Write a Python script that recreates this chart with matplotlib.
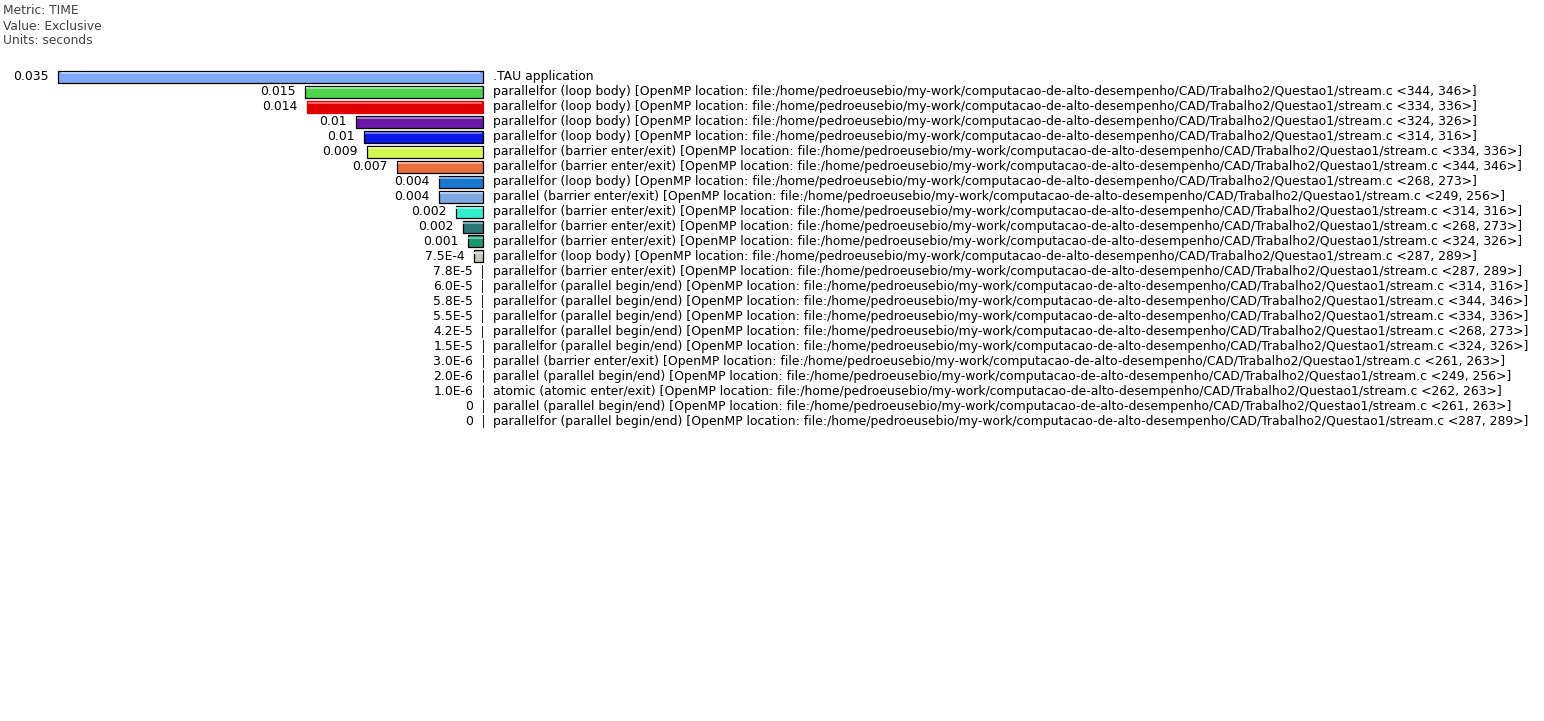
import matplotlib.pyplot as plt
import matplotlib.colors as mcolors

plt.rcParams['font.family'] = ['DejaVu Sans']

# Dados de tempo exclusivo por região (segundos)
loc = 'file:/home/pedroeusebio/my-work/computacao-de-alto-desempenho/CAD/Trabalho2/Questao1/stream.c'
nomes = [
    '.TAU application',
    'parallelfor (loop body) [OpenMP location: ' + loc + ' <344, 346>]',
    'parallelfor (loop body) [OpenMP location: ' + loc + ' <334, 336>]',
    'parallelfor (loop body) [OpenMP location: ' + loc + ' <324, 326>]',
    'parallelfor (loop body) [OpenMP location: ' + loc + ' <314, 316>]',
    'parallelfor (barrier enter/exit) [OpenMP location: ' + loc + ' <334, 336>]',
    'parallelfor (barrier enter/exit) [OpenMP location: ' + loc + ' <344, 346>]',
    'parallelfor (loop body) [OpenMP location: ' + loc + ' <268, 273>]',
    'parallel (barrier enter/exit) [OpenMP location: ' + loc + ' <249, 256>]',
    'parallelfor (barrier enter/exit) [OpenMP location: ' + loc + ' <314, 316>]',
    'parallelfor (barrier enter/exit) [OpenMP location: ' + loc + ' <268, 273>]',
    'parallelfor (barrier enter/exit) [OpenMP location: ' + loc + ' <324, 326>]',
    'parallelfor (loop body) [OpenMP location: ' + loc + ' <287, 289>]',
    'parallelfor (barrier enter/exit) [OpenMP location: ' + loc + ' <287, 289>]',
    'parallelfor (parallel begin/end) [OpenMP location: ' + loc + ' <314, 316>]',
    'parallelfor (parallel begin/end) [OpenMP location: ' + loc + ' <344, 346>]',
    'parallelfor (parallel begin/end) [OpenMP location: ' + loc + ' <334, 336>]',
    'parallelfor (parallel begin/end) [OpenMP location: ' + loc + ' <268, 273>]',
    'parallelfor (parallel begin/end) [OpenMP location: ' + loc + ' <324, 326>]',
    'parallel (barrier enter/exit) [OpenMP location: ' + loc + ' <261, 263>]',
    'parallel (parallel begin/end) [OpenMP location: ' + loc + ' <249, 256>]',
    'atomic (atomic enter/exit) [OpenMP location: ' + loc + ' <262, 263>]',
    'parallel (parallel begin/end) [OpenMP location: ' + loc + ' <261, 263>]',
    'parallelfor (parallel begin/end) [OpenMP location: ' + loc + ' <287, 289>]',
]
valores = [0.035, 0.01466, 0.01449, 0.01046, 0.0098, 0.00955, 0.00708,
           0.00362, 0.0036, 0.0022, 0.00165, 0.00124, 0.00075,
           7.8e-5, 6.0e-5, 5.8e-5, 5.5e-5, 4.2e-5, 1.5e-5,
           3.0e-6, 2.0e-6, 1.0e-6, 0, 0]
rotulos = ['0.035', '0.015', '0.014', '0.01', '0.01', '0.009', '0.007',
           '0.004', '0.004', '0.002', '0.002', '0.001', '7.5E-4',
           '7.8E-5', '6.0E-5', '5.8E-5', '5.5E-5', '4.2E-5', '1.5E-5',
           '3.0E-6', '2.0E-6', '1.0E-6', '0', '0']
cores = ['#80a8f8', '#4cd44c', '#e00000', '#6a18a8', '#0a18e8', '#d4f850',
         '#e8703c', '#1878d0', '#80a8e0', '#30f0d0', '#287878', '#189870',
         '#c8c4b8'] + ['#000000'] * 11
bordas = ['black', 'black', '#e00000'] + ['black'] * 21
n_visiveis = 13

fig = plt.figure(figsize=(15.44, 7.21), dpi=100)
W, H = 1544, 721
ax = fig.add_axes([58 / W, 1 - 429 / H, 425 / W, 360 / H])
ax.set_xlim(valores[0], 0)
ax.set_ylim(len(valores) - 0.5, -0.5)
ax.axis('off')

y = list(range(len(valores)))
ax.barh(y[:n_visiveis], valores[:n_visiveis], height=0.8, color=cores[:n_visiveis],
        edgecolor=bordas[:n_visiveis], linewidth=0.9, clip_on=False)

# brilho no topo das barras
brilho = [mcolors.to_hex([0.4 + 0.6 * c for c in mcolors.to_rgb(k)]) for k in cores[:n_visiveis]]
ax.barh([v - 0.22 for v in y[:n_visiveis]], [v * 0.985 for v in valores[:n_visiveis]],
        left=[v * 0.0075 for v in valores[:n_visiveis]], height=0.12, color=brilho, linewidth=0)

# barras muito pequenas aparecem como um traço de 1 px
ax.vlines(valores[n_visiveis:], [v - 0.4 for v in y[n_visiveis:]],
          [v + 0.4 for v in y[n_visiveis:]], color='#202020', linewidth=0.6,
          antialiased=False, clip_on=False)

for i in y:
    ax.annotate(rotulos[i], (valores[i], i), xytext=(-7, 0), textcoords='offset points',
                ha='right', va='center', fontsize=8.93, annotation_clip=False)
    ax.annotate(nomes[i], (0, i), xytext=(7.2, 0), textcoords='offset points',
                ha='left', va='center', fontsize=8.93, annotation_clip=False)

for k, t in enumerate(['Metric: TIME', 'Value: Exclusive', 'Units: seconds']):
    fig.text(3 / W, 1 - (11 + 15 * k) / H, t, ha='left', va='center',
             fontsize=8.8, color='#404040')

plt.savefig('out.png', dpi=100)
